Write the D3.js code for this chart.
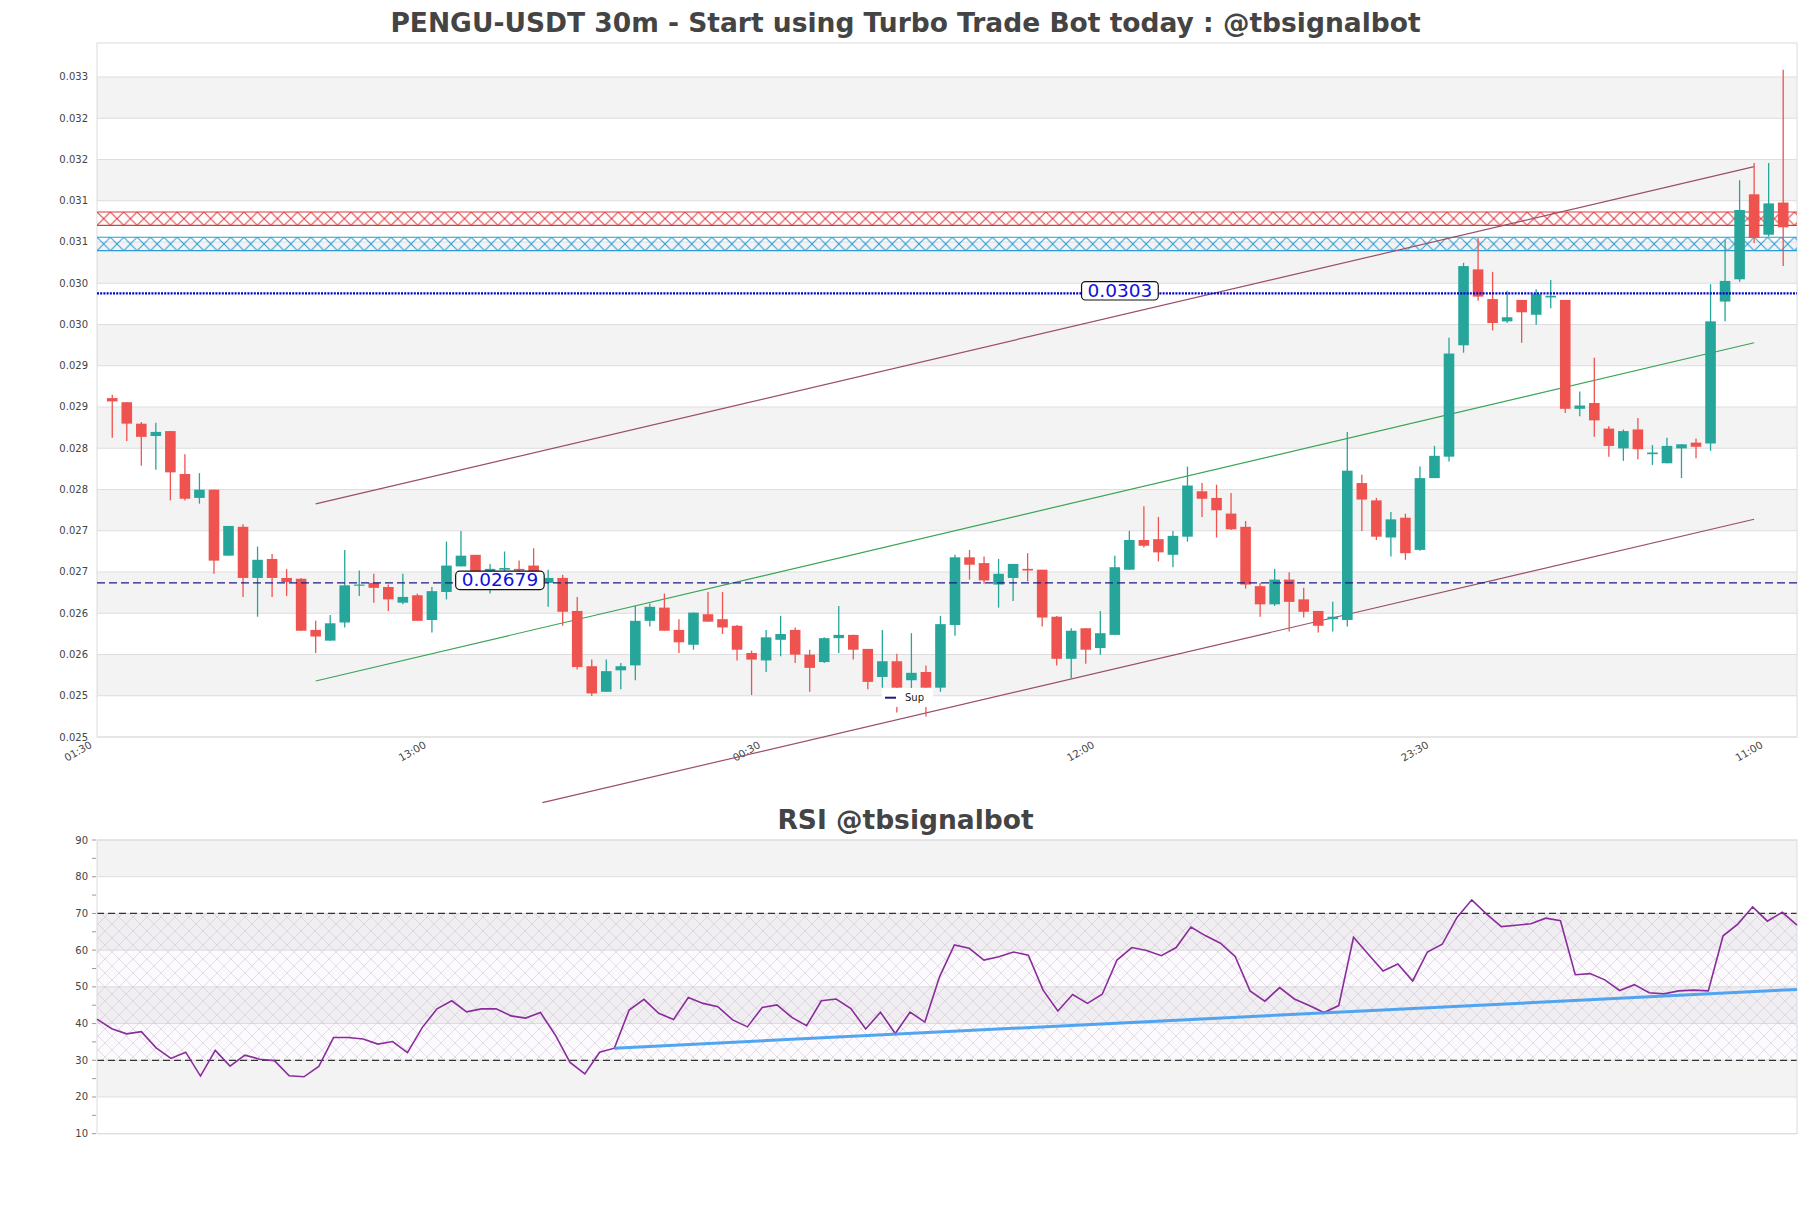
<!DOCTYPE html>
<html><head><meta charset="utf-8">
<script src="https://cdn.jsdelivr.net/npm/d3@7"></script>
<style>body{margin:0;background:#fff}svg{display:block}text{font-family:"DejaVu Sans",sans-serif}</style>
</head><body><svg id="c" width="1811" height="1208"></svg>
<script>
// ---- data ----
const opens  = [0.02903,0.02898,0.02872,0.02857,0.02863,0.02811,0.02782,0.02792,0.02712,0.02747,0.02685,0.02708,0.02685,0.02684,0.02622,0.02609,0.02631,0.02676,0.02679,0.02674,0.02655,0.02664,0.02634,0.02668,0.02699,0.02713,0.02693,0.02695,0.02696,0.02700,0.02679,0.02685,0.02645,0.02578,0.02547,0.02573,0.02579,0.02633,0.02649,0.02622,0.02604,0.02641,0.02635,0.02627,0.02594,0.02585,0.02610,0.02622,0.02592,0.02583,0.02612,0.02616,0.02599,0.02565,0.02584,0.02561,0.02571,0.02552,0.02628,0.02710,0.02703,0.02677,0.02685,0.02696,0.02695,0.02638,0.02587,0.02624,0.02600,0.02616,0.02695,0.02731,0.02732,0.02713,0.02735,0.02790,0.02782,0.02763,0.02747,0.02675,0.02653,0.02683,0.02659,0.02645,0.02635,0.02634,0.02800,0.02779,0.02734,0.02758,0.02719,0.02806,0.02832,0.02967,0.03059,0.03023,0.02996,0.03022,0.03004,0.03025,0.03022,0.02890,0.02897,0.02866,0.02842,0.02865,0.02835,0.02824,0.02842,0.02849,0.02848,0.03020,0.03047,0.03150,0.03101,0.03140];
const highs  = [0.02907,0.02898,0.02874,0.02873,0.02863,0.02835,0.02812,0.02792,0.02748,0.02750,0.02723,0.02714,0.02696,0.02685,0.02633,0.02640,0.02719,0.02694,0.02690,0.02677,0.02690,0.02666,0.02674,0.02729,0.02742,0.02713,0.02702,0.02717,0.02706,0.02721,0.02695,0.02689,0.02662,0.02586,0.02586,0.02582,0.02651,0.02654,0.02666,0.02635,0.02643,0.02668,0.02668,0.02628,0.02597,0.02622,0.02639,0.02625,0.02598,0.02613,0.02651,0.02616,0.02599,0.02622,0.02593,0.02618,0.02579,0.02639,0.02713,0.02719,0.02711,0.02708,0.02702,0.02715,0.02695,0.02639,0.02624,0.02624,0.02645,0.02712,0.02742,0.02772,0.02759,0.02742,0.02820,0.02800,0.02798,0.02788,0.02754,0.02679,0.02696,0.02692,0.02673,0.02645,0.02656,0.02862,0.02810,0.02782,0.02765,0.02763,0.02820,0.02845,0.02976,0.03067,0.03097,0.03056,0.03033,0.03022,0.03035,0.03046,0.03022,0.02911,0.02952,0.02869,0.02865,0.02879,0.02846,0.02855,0.02847,0.02854,0.03041,0.03095,0.03167,0.03188,0.03188,0.03301];
const lows   = [0.02855,0.02851,0.02821,0.02816,0.02779,0.02779,0.02775,0.02690,0.02712,0.02662,0.02638,0.02662,0.02663,0.02621,0.02594,0.02609,0.02625,0.02663,0.02655,0.02645,0.02653,0.02633,0.02619,0.02659,0.02699,0.02688,0.02666,0.02689,0.02688,0.02676,0.02650,0.02627,0.02574,0.02542,0.02547,0.02550,0.02561,0.02626,0.02621,0.02594,0.02598,0.02632,0.02617,0.02585,0.02543,0.02571,0.02590,0.02582,0.02547,0.02582,0.02594,0.02586,0.02550,0.02552,0.02522,0.02546,0.02517,0.02547,0.02615,0.02683,0.02678,0.02649,0.02657,0.02681,0.02626,0.02579,0.02563,0.02581,0.02592,0.02616,0.02695,0.02722,0.02705,0.02698,0.02729,0.02759,0.02734,0.02743,0.02672,0.02638,0.02651,0.02620,0.02637,0.02619,0.02620,0.02626,0.02742,0.02731,0.02711,0.02707,0.02718,0.02806,0.02826,0.02958,0.03021,0.02985,0.02994,0.02970,0.02992,0.03012,0.02885,0.02881,0.02856,0.02832,0.02827,0.02829,0.02822,0.02824,0.02806,0.02830,0.02839,0.02996,0.03044,0.03091,0.03099,0.03063];
const closes = [0.02899,0.02872,0.02856,0.02862,0.02813,0.02781,0.02792,0.02706,0.02748,0.02685,0.02707,0.02685,0.02680,0.02621,0.02614,0.02630,0.02676,0.02677,0.02673,0.02659,0.02662,0.02633,0.02669,0.02700,0.02712,0.02693,0.02696,0.02697,0.02694,0.02683,0.02685,0.02644,0.02577,0.02545,0.02572,0.02578,0.02633,0.02650,0.02621,0.02607,0.02643,0.02632,0.02625,0.02598,0.02586,0.02613,0.02617,0.02592,0.02576,0.02612,0.02616,0.02598,0.02559,0.02584,0.02552,0.02570,0.02552,0.02629,0.02710,0.02701,0.02682,0.02690,0.02702,0.02694,0.02637,0.02587,0.02621,0.02598,0.02618,0.02698,0.02731,0.02724,0.02716,0.02736,0.02797,0.02781,0.02767,0.02744,0.02677,0.02653,0.02683,0.02656,0.02644,0.02627,0.02638,0.02815,0.02780,0.02735,0.02756,0.02715,0.02806,0.02833,0.02957,0.03063,0.03026,0.02994,0.03001,0.03007,0.03029,0.03027,0.02890,0.02894,0.02876,0.02845,0.02863,0.02841,0.02837,0.02845,0.02847,0.02844,0.02996,0.03045,0.03131,0.03097,0.03139,0.03110];
const rsiValues = [41.2,38.6,37.2,37.8,33.4,30.5,32.2,25.7,32.7,28.4,31.4,30.3,29.9,25.8,25.5,28.3,36.2,36.2,35.8,34.4,35.1,32.1,38.9,44.0,46.2,43.2,44.0,44.0,42.1,41.5,43.0,36.9,29.4,26.3,32.2,33.3,43.7,46.6,42.8,41.1,47.1,45.5,44.6,41.0,39.1,44.4,45.1,41.7,39.4,46.2,46.7,44.1,38.5,43.1,37.3,43.1,40.4,52.8,61.4,60.5,57.3,58.2,59.5,58.6,49.1,43.4,47.9,45.5,48.0,57.3,60.7,59.9,58.5,60.7,66.3,63.9,61.9,58.2,48.9,46.1,49.8,46.7,44.9,43.0,44.9,63.5,58.9,54.3,56.2,51.6,59.5,61.6,68.9,73.7,69.8,66.4,66.8,67.2,68.7,68.0,53.3,53.6,51.9,49.0,50.6,48.4,48.1,48.9,49.1,48.9,63.9,67.1,71.8,67.9,70.3,66.8];
const xTickIndex  = [-1, 22, 45, 68, 91, 114];
const xTickLabels = ["01:30","13:00","00:30","12:00","23:30","11:00"];
const priceTicks  = [0.024922,0.025422,0.025922,0.026422,0.026922,0.027422,0.027922,0.028422,0.028922,0.029422,0.029922,0.030422,0.030922,0.031422,0.031922,0.032422,0.032922];
const priceDomain = [0.024922, 0.033334];
const rsiTicks    = [10,20,30,40,50,60,70,80,90];
const rsiMinor    = [15,25,35,45,55,65,75,85];
const rsiBounds   = [30, 70];
const zoneRed     = [0.031124, 0.031286];
const zoneBlue    = [0.030817, 0.030979];
const levelValues = [0.0303, 0.02679];
const levelLabels = ["0.0303", "0.02679"];
const levelLabelAt= [69.35, 26.68];
const channelUpper= [[14, 0.027747],[113, 0.031835]];
const channelMid  = [[14, 0.025601],[113, 0.029701]];
const channelLower= [[29.6, 0.024126],[113, 0.027561]];
const rsiTrend    = [[35, 33.3],[115, 49.3]];
const legendLabel = "Sup";

// ---- layout ----
const svg = d3.select("#c");
svg.append("rect").attr("width",1811).attr("height",1208).attr("fill","#fff");
const M = {l:97, r:1797, t:43, b:737};
const R = {l:97, r:1797, t:840, b:1133.7};
const x = d3.scaleLinear().domain([-1.05, 115.95]).range([M.l, M.r]);
const y = d3.scaleLinear().domain(priceDomain).range([M.b, M.t]);
const xr = d3.scaleLinear().domain([0, rsiValues.length-1]).range([R.l, R.r]);
const yr = d3.scaleLinear().domain([10, 90]).range([R.b, R.t]);
const defs = svg.append("defs");

function hatch(id, color, top, h, w) {
  const p = defs.append("pattern").attr("id", id).attr("patternUnits","userSpaceOnUse")
    .attr("width", h).attr("height", h).attr("patternTransform", `translate(${M.l},${top})`);
  p.append("path").attr("d", `M0,0L${h},${h}M0,${h}L${h},0M-1,${h-1}L1,${h+1}M${h-1},-1L${h+1},1`)
    .attr("stroke", color).attr("stroke-width", w).attr("fill","none");
}

// titles
svg.append("text").attr("x",905.5).attr("y",32).attr("text-anchor","middle")
  .attr("font-size",26.5).attr("font-weight","bold").attr("fill","#444")
  .text("PENGU-USDT 30m - Start using Turbo Trade Bot today : @tbsignalbot");
svg.append("text").attr("x",905.5).attr("y",829).attr("text-anchor","middle")
  .attr("font-size",26.5).attr("font-weight","bold").attr("fill","#444")
  .text("RSI @tbsignalbot");

// ---- main panel ----
const g = svg.append("g");
priceTicks.forEach((t,i) => {
  if (i % 2 === 1 && i+1 < priceTicks.length)
    g.append("rect").attr("x",M.l).attr("width",M.r-M.l)
      .attr("y", y(priceTicks[i+1])).attr("height", y(t)-y(priceTicks[i+1])).attr("fill","#f3f3f3");
});
g.selectAll(".gl").data(priceTicks).join("line")
  .attr("x1",M.l).attr("x2",M.r).attr("y1",d=>y(d)).attr("y2",d=>y(d))
  .attr("stroke","#dedede").attr("stroke-width",1);
g.append("rect").attr("x",M.l).attr("y",M.t).attr("width",M.r-M.l).attr("height",M.b-M.t)
  .attr("fill","none").attr("stroke","#dcdcdc");
const fmt = d3.format(".3f");
g.selectAll(".yl").data(priceTicks).join("text")
  .attr("x",88).attr("y",d=>y(d)).attr("dy","0.35em").attr("text-anchor","end")
  .attr("font-size",10).attr("fill","#444").text(d=>fmt(d));
g.selectAll(".xl").data(xTickIndex).join("text")
  .attr("transform",d=>`translate(${x(d)-5},747) rotate(-30)`).attr("text-anchor","end")
  .attr("font-size",10.3).attr("fill","#444").text((d,i)=>xTickLabels[i]);

// zones
[[zoneRed,"hr","#e2383c"],[zoneBlue,"hb","#2a9bd6"]].forEach(([z,id,c]) => {
  const top = y(z[1]), h = y(z[0]) - y(z[1]);
  hatch(id, c, top, h, 1.05);
  g.append("rect").attr("x",M.l).attr("y",top).attr("width",M.r-M.l).attr("height",h)
    .attr("fill",`url(#${id})`);
  [top, top+h].forEach(yy => g.append("line").attr("x1",M.l).attr("x2",M.r).attr("y1",yy).attr("y2",yy)
    .attr("stroke",c).attr("stroke-width",1.1));
});

// channel lines
const ln = d3.line().x(d=>x(d[0])).y(d=>y(d[1]));
g.append("path").attr("d",ln(channelUpper)).attr("stroke","#9a4f66").attr("stroke-width",1.2).attr("fill","none");
g.append("path").attr("d",ln(channelLower)).attr("stroke","#9a4f66").attr("stroke-width",1.2).attr("fill","none");
g.append("path").attr("d",ln(channelMid)).attr("stroke","#3aa457").attr("stroke-width",1.2).attr("fill","none");

// candles
const bw = 10.6;
const candles = g.append("g");
opens.forEach((o,i) => {
  const c = closes[i], up = c >= o, col = up ? "#26a69a" : "#ef5350";
  candles.append("line").attr("x1",x(i)).attr("x2",x(i)).attr("y1",y(highs[i])).attr("y2",y(lows[i]))
    .attr("stroke",col).attr("stroke-width",1.3);
  const yt = y(Math.max(o,c)), yb = y(Math.min(o,c));
  candles.append("rect").attr("x",x(i)-bw/2).attr("width",bw)
    .attr("y",yt).attr("height",Math.max(1.2, yb-yt)).attr("fill",col);
});

// level lines
g.append("line").attr("x1",M.l).attr("x2",M.r).attr("y1",y(levelValues[0])).attr("y2",y(levelValues[0]))
  .attr("stroke","#0000cc").attr("stroke-width",2.2).attr("stroke-dasharray","2,1.2");
g.append("line").attr("x1",M.l).attr("x2",M.r).attr("y1",y(levelValues[1])).attr("y2",y(levelValues[1]))
  .attr("stroke","#1c1c84").attr("stroke-width",1.3).attr("stroke-dasharray","8,4");
levelValues.forEach((v,i) => {
  const cx = x(levelLabelAt[i]), cy = y(v);
  const lg = g.append("g");
  const box = lg.append("rect");
  const t = lg.append("text").attr("x",cx).attr("y",cy+3.6).attr("text-anchor","middle")
    .attr("font-size",18.5).attr("fill","#1010dd").text(levelLabels[i]);
  const tw = t.node().getComputedTextLength();
  box.attr("x",cx-tw/2-6).attr("width",tw+12).attr("y",cy-11.7).attr("height",18.4)
    .attr("rx",4).attr("fill","#fff").attr("stroke","#111").attr("stroke-width",1.2);
});

// legend
const lgx = 882, lgy = 688;
g.append("rect").attr("x",lgx).attr("y",lgy).attr("width",51).attr("height",19).attr("fill","#fff");
g.append("line").attr("x1",lgx+3).attr("x2",lgx+14).attr("y1",lgy+9.7).attr("y2",lgy+9.7)
  .attr("stroke","#1c1c84").attr("stroke-width",2);
g.append("text").attr("x",lgx+23).attr("y",lgy+13.3).attr("font-size",10).attr("fill","#222").text(legendLabel);

// ---- RSI panel ----
const r = svg.append("g");
rsiTicks.forEach((t,i) => {
  if (i % 2 === 1 && i+1 < rsiTicks.length)
    r.append("rect").attr("x",R.l).attr("width",R.r-R.l)
      .attr("y", yr(rsiTicks[i+1])).attr("height", yr(t)-yr(rsiTicks[i+1])).attr("fill","#f3f3f3");
});
r.selectAll(".gl").data(rsiTicks).join("line")
  .attr("x1",R.l).attr("x2",R.r).attr("y1",d=>yr(d)).attr("y2",d=>yr(d))
  .attr("stroke","#dedede").attr("stroke-width",1);
const rp = defs.append("pattern").attr("id","hrsi").attr("patternUnits","userSpaceOnUse")
  .attr("width",14).attr("height",14);
rp.append("path").attr("d","M0,0L14,14M0,14L14,0").attr("stroke","#c6bcd2").attr("stroke-width",0.6).attr("fill","none");
r.append("rect").attr("x",R.l).attr("width",R.r-R.l).attr("y",yr(rsiBounds[1])).attr("height",yr(rsiBounds[0])-yr(rsiBounds[1]))
  .attr("fill","rgba(128,60,160,0.025)");
r.append("rect").attr("x",R.l).attr("width",R.r-R.l).attr("y",yr(rsiBounds[1])).attr("height",yr(rsiBounds[0])-yr(rsiBounds[1]))
  .attr("fill","url(#hrsi)").attr("opacity",0.8);
rsiBounds.forEach(b => r.append("line").attr("x1",R.l).attr("x2",R.r).attr("y1",yr(b)).attr("y2",yr(b))
  .attr("stroke","#333").attr("stroke-width",1.2).attr("stroke-dasharray","7,4"));
r.append("rect").attr("x",R.l).attr("y",R.t).attr("width",R.r-R.l).attr("height",R.b-R.t)
  .attr("fill","none").attr("stroke","#dcdcdc");
r.selectAll(".tk").data(rsiTicks.concat(rsiMinor)).join("line")
  .attr("x1",R.l-5).attr("x2",R.l-1).attr("y1",d=>yr(d)).attr("y2",d=>yr(d)).attr("stroke","#999");
r.selectAll(".yl").data(rsiTicks).join("text")
  .attr("x",88).attr("y",d=>yr(d)).attr("dy","0.35em").attr("text-anchor","end")
  .attr("font-size",10).attr("fill","#444").text(d=>d);
r.append("path").attr("d", d3.line().x((d,i)=>xr(i)).y(d=>yr(d))(rsiValues))
  .attr("fill","none").attr("stroke","#8b2c9c").attr("stroke-width",1.6);
r.append("path").attr("d", d3.line().x(d=>xr(d[0])).y(d=>yr(d[1]))(rsiTrend))
  .attr("fill","none").attr("stroke","#3f9cf0").attr("stroke-width",3).attr("stroke-opacity",0.9);
</script></body></html>
